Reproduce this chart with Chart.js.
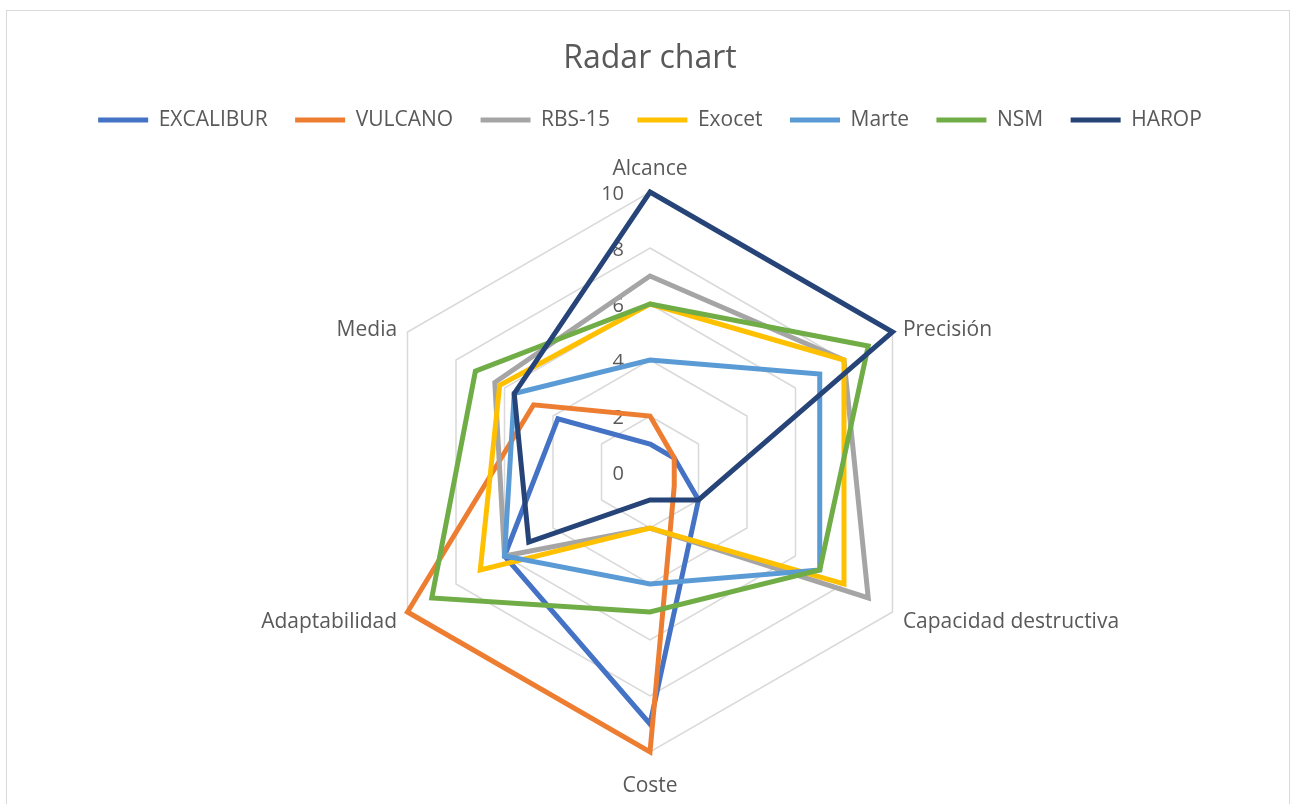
<!DOCTYPE html>
<html>
<head>
<meta charset="utf-8">
<title>Radar chart</title>
<script src="https://cdn.jsdelivr.net/npm/chart.js@4.4.1/dist/chart.umd.min.js"></script>
<style>
    html, body { margin: 0; padding: 0; background: #ffffff; }
    #frame {
        position: absolute;
        left: 6px;
        top: 10px;
        width: 1284px;
        height: 820px;
        border: 1px solid #d9d9d9;
        box-sizing: border-box;
    }
    #radarChart { position: absolute; left: 0; top: 0; }
</style>
</head>
<body>
<div id="frame"></div>
<canvas id="radarChart" width="1292" height="804"></canvas>
<script>
const categories = ["Alcance", "Precisión", "Capacidad destructiva", "Coste", "Adaptabilidad", "Media"];
const seriesNames = ["EXCALIBUR", "VULCANO", "RBS-15", "Exocet", "Marte", "NSM", "HAROP"];
const excalibur = [1, 1, 2, 9, 6, 3.8];
const vulcano = [2, 1, 1, 10, 10, 4.8];
const rbs15 = [7, 8, 9, 2, 6, 6.4];
const exocet = [6, 8, 8, 2, 7, 6.2];
const marte = [4, 7, 7, 4, 6, 5.6];
const nsm = [6, 9, 7, 5, 9, 7.2];
const harop = [10, 10, 2, 1, 5, 5.6];
const tickValues = [0, 2, 4, 6, 8, 10];

const seriesValues = [excalibur, vulcano, rbs15, exocet, marte, nsm, harop];
const colors = ["#4472C4", "#ED7D31", "#A5A5A5", "#FFC000", "#5B9BD5", "#70AD47", "#264478"];
const textColor = "#595959";
const fontFamily = '"Open Sans", "DejaVu Sans", sans-serif';

// Excel-like axis text: the "0" tick and labels centred beside the side spokes
const axisText = {
    id: "axisText",
    beforeDatasetsDraw: function (chart) {
        const scale = chart.scales.r;
        const ctx = chart.ctx;
        ctx.save();
        ctx.fillStyle = textColor;
        ctx.textBaseline = "middle";

        ctx.font = "20px " + fontFamily;
        ctx.textAlign = "right";
        tickValues.forEach(function (value) {
            const y = scale.yCenter - scale.getDistanceFromCenterForValue(value);
            ctx.fillText(String(value), scale.xCenter - 26, y + 2);
        });

        ctx.font = "21px " + fontFamily;
        categories.forEach(function (label, i) {
            const pos = scale.getPointPosition(i, scale.drawingArea + 12);
            const angle = scale.getIndexAngle(i);
            const sin = Math.sin(angle);
            const cos = Math.cos(angle);
            let dy = 4.5;
            if (Math.abs(sin) < 0.01) {
                ctx.textAlign = "center";
                dy += cos > 0 ? -15 : 17.5;
            } else {
                ctx.textAlign = sin > 0 ? "left" : "right";
            }
            ctx.fillText(label, pos.x, pos.y + dy);
        });
        ctx.restore();
    },
};

// room under the legend, so the plot sits where it does in the original
const legendMargin = {
    id: "legendMargin",
    beforeInit: function (chart) {
        const fitLegend = chart.legend.fit;
        chart.legend.fit = function () {
            fitLegend.bind(chart.legend)();
            this.height += 52;
        };
    },
};

const chart = new Chart(document.getElementById("radarChart"), {
    type: "radar",
    plugins: [axisText, legendMargin],
    data: {
        labels: categories,
        datasets: seriesNames.map(function (name, i) {
            return {
                label: name,
                data: seriesValues[i],
                borderColor: colors[i],
                backgroundColor: colors[i],
                borderWidth: 5,
                borderCapStyle: "round",
                pointRadius: 0,
                pointHoverRadius: 0,
                fill: false,
                tension: 0,
                order: seriesNames.length - i,
            };
        }),
    },
    options: {
        responsive: false,
        animation: false,
        layout: {
            padding: { top: 0, bottom: 51, left: 8, right: 0 },
        },
        plugins: {
            title: {
                display: true,
                text: "Radar chart",
                color: textColor,
                font: { family: fontFamily, size: 32, weight: "normal" },
                padding: { top: 39.5, bottom: 4 },
            },
            legend: {
                position: "top",
                labels: {
                    color: textColor,
                    font: { family: fontFamily, size: 21 },
                    usePointStyle: true,
                    pointStyle: "line",
                    pointStyleWidth: 50,
                    padding: 27.5,
                    sort: function (a, b) {
                        return a.datasetIndex - b.datasetIndex;
                    },
                },
            },
            tooltip: { enabled: false },
        },
        scales: {
            r: {
                min: 0,
                max: 10,
                ticks: {
                    stepSize: 2,
                    display: false,
                },
                grid: {
                    color: "#d9d9d9",
                    lineWidth: 1.5,
                },
                angleLines: { display: false },
                pointLabels: { display: false },
            },
        },
    },
});
</script>
</body>
</html>
